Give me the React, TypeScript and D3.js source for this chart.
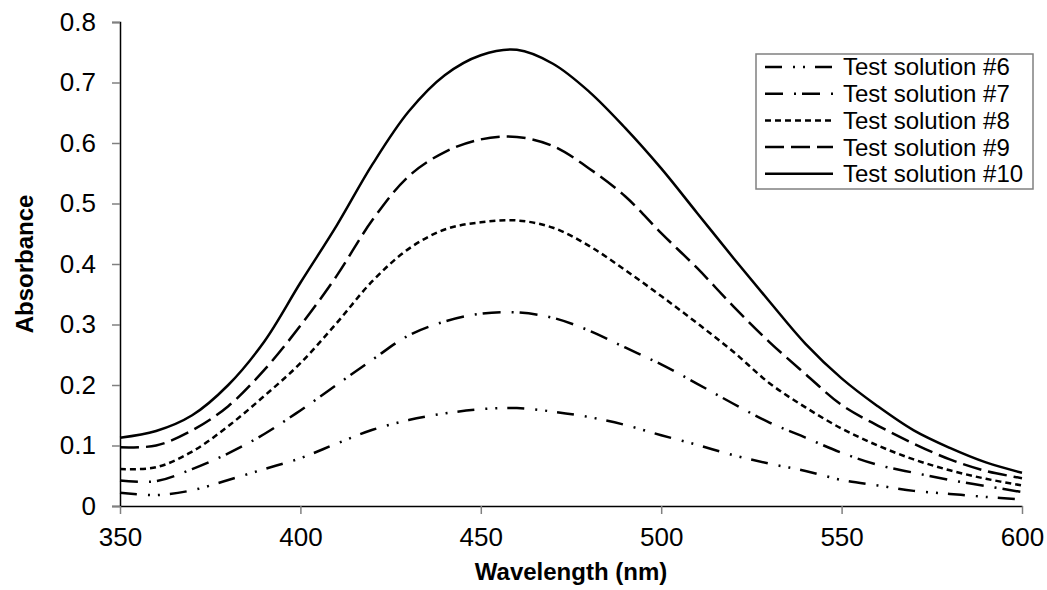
import React, { useEffect, useRef } from 'react';
import * as d3 from 'd3';

const wavelengths = [350, 360, 370, 380, 390, 400, 410, 420, 430, 440, 450, 460, 470, 480, 490, 500, 510, 520, 530, 540, 550, 560, 570, 580, 590, 600];

const solution6 = [0.022, 0.018, 0.026, 0.043, 0.061, 0.079, 0.103, 0.126, 0.142, 0.153, 0.160, 0.162, 0.156, 0.147, 0.134, 0.117, 0.101, 0.084, 0.070, 0.058, 0.043, 0.034, 0.025, 0.020, 0.015, 0.011];
const solution7 = [0.042, 0.041, 0.061, 0.087, 0.119, 0.158, 0.200, 0.242, 0.282, 0.305, 0.318, 0.320, 0.311, 0.290, 0.262, 0.234, 0.202, 0.169, 0.138, 0.113, 0.088, 0.068, 0.055, 0.043, 0.033, 0.023];
const solution8 = [0.061, 0.064, 0.090, 0.132, 0.182, 0.236, 0.302, 0.372, 0.425, 0.457, 0.469, 0.472, 0.460, 0.430, 0.390, 0.347, 0.302, 0.255, 0.203, 0.163, 0.128, 0.100, 0.077, 0.059, 0.045, 0.034];
const solution9 = [0.097, 0.100, 0.125, 0.165, 0.225, 0.298, 0.380, 0.473, 0.545, 0.585, 0.606, 0.610, 0.595, 0.558, 0.512, 0.451, 0.393, 0.330, 0.271, 0.218, 0.167, 0.133, 0.103, 0.077, 0.058, 0.046];
const solution10 = [0.113, 0.124, 0.150, 0.200, 0.272, 0.369, 0.463, 0.565, 0.652, 0.712, 0.745, 0.754, 0.731, 0.685, 0.625, 0.558, 0.484, 0.410, 0.338, 0.268, 0.211, 0.165, 0.125, 0.096, 0.072, 0.055];

const seriesNames = ['Test solution #6', 'Test solution #7', 'Test solution #8', 'Test solution #9', 'Test solution #10'];
const seriesValues = [solution6, solution7, solution8, solution9, solution10];
const seriesDashes = ['17,11,2,8,2,10', '18,11,2,6', '6,4', '19,7', null];

const xTicks = [350, 400, 450, 500, 550, 600];
const yTicks = [0, 0.1, 0.2, 0.3, 0.4, 0.5, 0.6, 0.7, 0.8];

const FONT = "'Liberation Sans', Arial, sans-serif";

const App = () => {
  const svgRef = useRef(null);

  useEffect(() => {
    if (!svgRef.current) return;
    const svg = d3.select(svgRef.current);
    svg.selectAll('*').remove();

    const width = 1047;
    const height = 590;
    const margin = { top: 22, right: 25, bottom: 84, left: 120 };

    const x = d3.scaleLinear().domain([350, 600]).range([margin.left, width - margin.right]);
    const y = d3.scaleLinear().domain([0, 0.8]).range([height - margin.bottom, margin.top]);

    svg.attr('width', width).attr('height', height);

    // y axis
    const yAxis = svg.append('g').attr('transform', `translate(${margin.left},0)`)
      .call(d3.axisLeft(y).tickValues(yTicks).tickSize(8).tickPadding(16).tickFormat(d => d3.format('.1~f')(d)));
    yAxis.select('.domain').attr('stroke', '#000').attr('stroke-width', 1.5);
    yAxis.selectAll('.tick line').attr('stroke', '#808080').attr('stroke-width', 1.5);
    yAxis.selectAll('.tick text').attr('font-family', FONT).attr('font-size', 26).attr('fill', '#000');

    // x axis
    const xAxis = svg.append('g').attr('transform', `translate(0,${height - margin.bottom})`)
      .call(d3.axisBottom(x).tickValues(xTicks).tickSize(8).tickPadding(14).tickSizeOuter(0));
    xAxis.select('.domain').attr('stroke', '#000').attr('stroke-width', 1.5);
    xAxis.selectAll('.tick line').attr('stroke', '#808080').attr('stroke-width', 1.5);
    xAxis.selectAll('.tick text').attr('font-family', FONT).attr('font-size', 26).attr('fill', '#000');

    // axis titles
    svg.append('text')
      .attr('x', (margin.left + width - margin.right) / 2)
      .attr('y', 580)
      .attr('text-anchor', 'middle')
      .attr('font-family', FONT)
      .attr('font-size', 24)
      .attr('font-weight', 'bold')
      .text('Wavelength (nm)');

    svg.append('text')
      .attr('transform', `translate(33,${(margin.top + height - margin.bottom) / 2}) rotate(-90)`)
      .attr('text-anchor', 'middle')
      .attr('font-family', FONT)
      .attr('font-size', 24)
      .attr('font-weight', 'bold')
      .text('Absorbance');

    // lines
    const line = d3.line()
      .x((d, i) => x(wavelengths[i]))
      .y(d => y(d))
      .curve(d3.curveCatmullRom.alpha(0.5));

    seriesValues.forEach((vals, i) => {
      const p = svg.append('path')
        .datum(vals)
        .attr('d', line)
        .attr('fill', 'none')
        .attr('stroke', '#000')
        .attr('stroke-width', 2.5);
      if (seriesDashes[i]) p.attr('stroke-dasharray', seriesDashes[i]);
    });

    // legend
    const legend = svg.append('g').attr('transform', 'translate(756,54)');
    legend.append('rect')
      .attr('width', 277)
      .attr('height', 135)
      .attr('fill', '#fff')
      .attr('stroke', '#808080')
      .attr('stroke-width', 1.5);

    seriesNames.forEach((name, i) => {
      const cy = 13 + i * 26.7;
      const l = legend.append('line')
        .attr('x1', 9).attr('x2', 77)
        .attr('y1', cy).attr('y2', cy)
        .attr('stroke', '#000')
        .attr('stroke-width', 2.5);
      if (seriesDashes[i]) l.attr('stroke-dasharray', seriesDashes[i]);
      legend.append('text')
        .attr('x', 87)
        .attr('y', cy)
        .attr('dy', '0.35em')
        .attr('font-family', FONT)
        .attr('font-size', 24)
        .text(name);
    });
  }, []);

  return (
    <svg ref={svgRef} style={{ position: 'absolute', left: 0, top: 0, background: '#fff' }}></svg>
  );
};

export default App;
